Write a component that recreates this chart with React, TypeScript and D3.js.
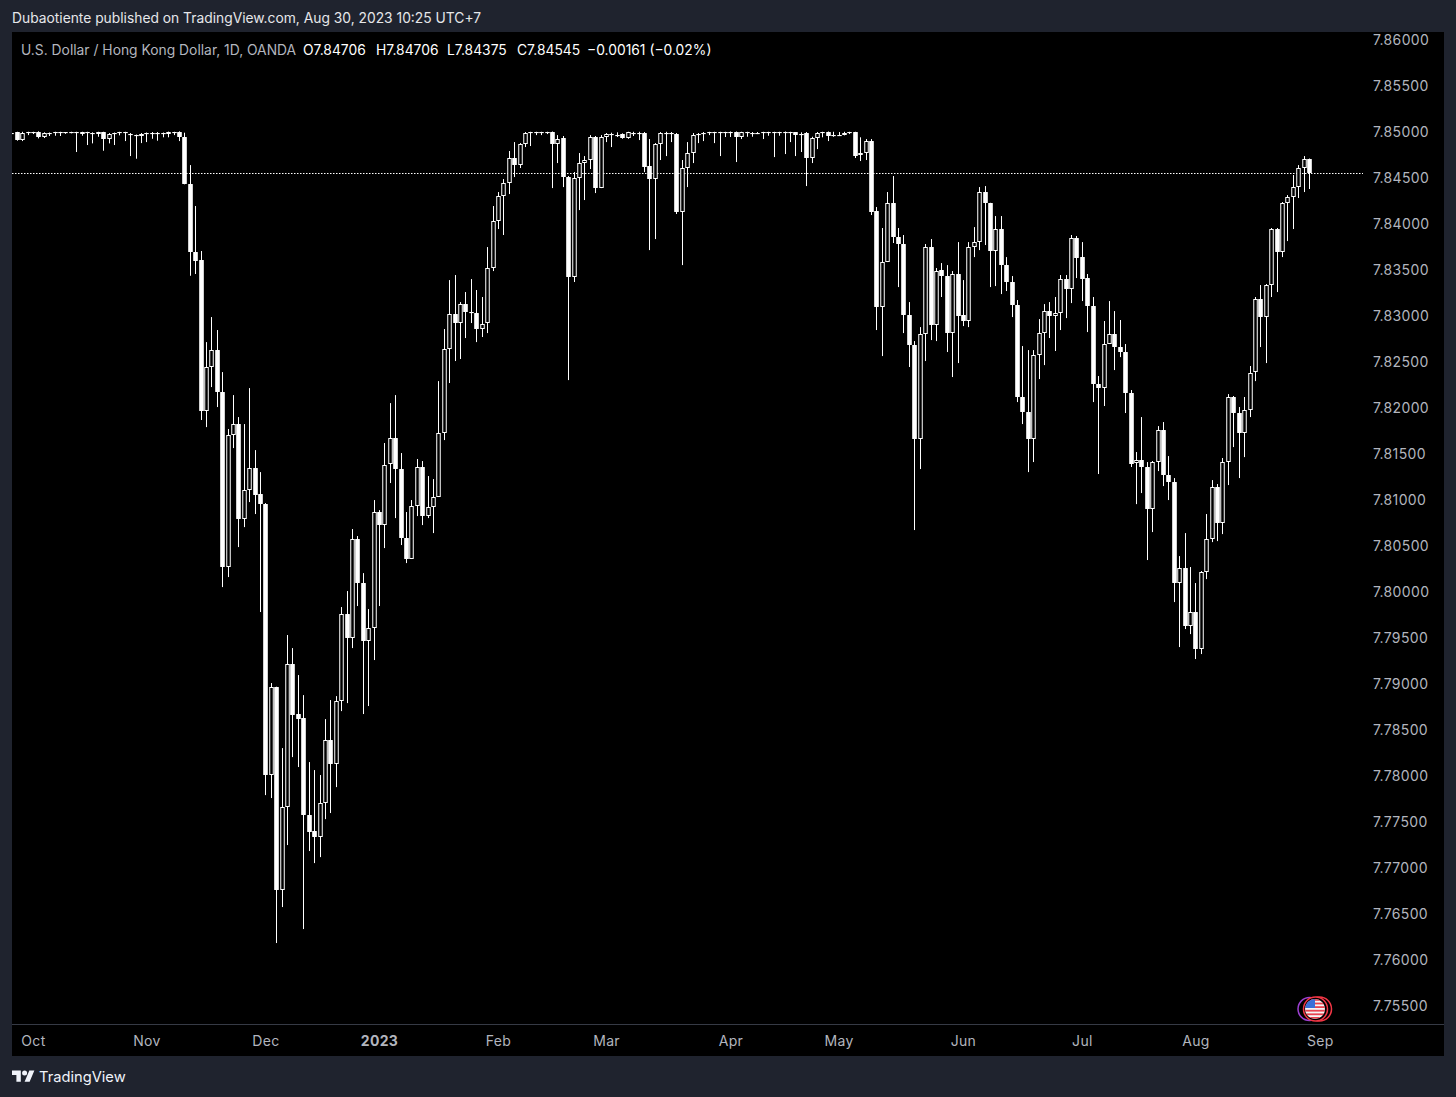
import React, { useRef, useEffect, FC } from "react";
import * as d3 from "d3";

// [open, high, low, close], one row per day
const lateSeptemberToNovemberBars = [
  [7.84989, 7.84994, 7.84972, 7.84983],
  [7.84994, 7.84997, 7.849, 7.84907],
  [7.84907, 7.84997, 7.84896, 7.84987],
  [7.84991, 7.84997, 7.84961, 7.84986],
  [7.84991, 7.84997, 7.84972, 7.84985],
  [7.84991, 7.85002, 7.84925, 7.84937],
  [7.84937, 7.84991, 7.84929, 7.8498],
  [7.84987, 7.84989, 7.84951, 7.84982],
  [7.84991, 7.84997, 7.84954, 7.84985],
  [7.84991, 7.84997, 7.84951, 7.84985],
  [7.84991, 7.84994, 7.84975, 7.84985],
  [7.84994, 7.84997, 7.8498, 7.84989],
  [7.84994, 7.84997, 7.84777, 7.8498],
  [7.84972, 7.84997, 7.84954, 7.84994],
  [7.84994, 7.84997, 7.84853, 7.84989],
  [7.84987, 7.84991, 7.84871, 7.84982],
  [7.84969, 7.84997, 7.84943, 7.84994],
  [7.84994, 7.84997, 7.84791, 7.84914],
  [7.84918, 7.84983, 7.84871, 7.84972],
  [7.84983, 7.84989, 7.84853, 7.84978],
  [7.84994, 7.84997, 7.84958, 7.84989],
  [7.84994, 7.84997, 7.84896, 7.84989],
  [7.84975, 7.84983, 7.84733, 7.84969],
  [7.84965, 7.84967, 7.84704, 7.84959],
  [7.84972, 7.84983, 7.84874, 7.84954],
  [7.8498, 7.84989, 7.84885, 7.84975],
  [7.84987, 7.84994, 7.84921, 7.84982],
  [7.84987, 7.84994, 7.849, 7.84982],
  [7.8498, 7.84989, 7.84937, 7.84975],
  [7.84969, 7.84999, 7.84937, 7.84997],
  [7.84994, 7.84997, 7.84961, 7.84989],
  [7.84999, 7.85002, 7.84896, 7.84937],
];

const selloffBars = [
  [7.84937, 7.84987, 7.84426, 7.84426],
  [7.84426, 7.84635, 7.83432, 7.83686],
  [7.83686, 7.8419, 7.83451, 7.83595],
  [7.83603, 7.83701, 7.81864, 7.81961],
  [7.81961, 7.82711, 7.81787, 7.8244],
  [7.8244, 7.82983, 7.82222, 7.82624],
  [7.82624, 7.82842, 7.82005, 7.82168],
  [7.82168, 7.82385, 7.80048, 7.80266],
  [7.80266, 7.81766, 7.80157, 7.81701],
  [7.81701, 7.82135, 7.81559, 7.8182],
  [7.8182, 7.81896, 7.80483, 7.80787],
  [7.80787, 7.8182, 7.807, 7.81103],
  [7.81103, 7.82211, 7.80972, 7.81342],
  [7.81342, 7.81537, 7.80842, 7.81048],
  [7.81059, 7.81298, 7.79777, 7.8095],
  [7.8095, 7.80961, 7.77787, 7.78005],
  [7.78005, 7.79005, 7.77755, 7.78961],
  [7.78961, 7.78965, 7.76179, 7.76755],
  [7.76755, 7.78298, 7.7657, 7.77657],
  [7.77657, 7.79527, 7.77244, 7.79211],
  [7.79211, 7.79385, 7.782, 7.78657],
  [7.78668, 7.79092, 7.78092, 7.78613],
  [7.78624, 7.78874, 7.76331, 7.7757],
  [7.7757, 7.78146, 7.77179, 7.77385],
  [7.77396, 7.78059, 7.77048, 7.77331],
  [7.77331, 7.78005, 7.77113, 7.777],
];

const recoveryBars = [
  [7.777, 7.78613, 7.77526, 7.78385],
  [7.78385, 7.7882, 7.77592, 7.78124],
  [7.78124, 7.78863, 7.77874, 7.78809],
  [7.78809, 7.79831, 7.787, 7.79755],
  [7.79755, 7.80005, 7.78787, 7.79494],
  [7.79494, 7.80679, 7.79385, 7.8057],
  [7.8057, 7.80603, 7.79842, 7.80092],
  [7.80092, 7.802, 7.78668, 7.79461],
  [7.79461, 7.79809, 7.78755, 7.79603],
  [7.79603, 7.80994, 7.79255, 7.80864],
  [7.80864, 7.80885, 7.79842, 7.80722],
  [7.80722, 7.81614, 7.80472, 7.81374],
  [7.81385, 7.82048, 7.81179, 7.81668],
  [7.81668, 7.82135, 7.80798, 7.81331],
  [7.81331, 7.81505, 7.80505, 7.80581],
  [7.80581, 7.80864, 7.80309, 7.80353],
  [7.80353, 7.80994, 7.80353, 7.80929],
  [7.80929, 7.8144, 7.8082, 7.81353],
  [7.81353, 7.81418, 7.80722, 7.8082],
  [7.8082, 7.81255, 7.80798, 7.80918],
  [7.80918, 7.81222, 7.80635, 7.81027],
  [7.81027, 7.82287, 7.81027, 7.81722],
  [7.81722, 7.82853, 7.81646, 7.82635],
  [7.82635, 7.83385, 7.82266, 7.83016],
  [7.83016, 7.8344, 7.82505, 7.82918],
  [7.82918, 7.83146, 7.82527, 7.83124],
  [7.83124, 7.83255, 7.82755, 7.83038],
  [7.83038, 7.83396, 7.82918, 7.83027],
  [7.83027, 7.83277, 7.82711, 7.82853],
  [7.82853, 7.83201, 7.82766, 7.82907],
  [7.82918, 7.83744, 7.82809, 7.83516],
  [7.83516, 7.8419, 7.83483, 7.84027],
  [7.84027, 7.84342, 7.8394, 7.84298],
  [7.84298, 7.84483, 7.83875, 7.8444],
  [7.8444, 7.84788, 7.8432, 7.84712],
  [7.84712, 7.84885, 7.84505, 7.84635],
  [7.84635, 7.84874, 7.84603, 7.84864],
  [7.84864, 7.84994, 7.84831, 7.84983],
];

const pegCeilingBars = [
  [7.84994, 7.84997, 7.84842, 7.84989],
  [7.84994, 7.84997, 7.84961, 7.84989],
  [7.84994, 7.84997, 7.84961, 7.84989],
  [7.84994, 7.84997, 7.84972, 7.84985],
  [7.84997, 7.85, 7.84385, 7.84864],
  [7.84864, 7.84961, 7.84657, 7.84918],
  [7.84929, 7.84951, 7.84396, 7.84505],
  [7.84505, 7.84516, 7.82298, 7.83418],
  [7.83418, 7.84559, 7.83364, 7.84494],
  [7.84494, 7.84766, 7.84146, 7.84657],
  [7.84657, 7.84733, 7.84255, 7.8469],
  [7.8469, 7.84961, 7.84592, 7.8494],
  [7.8494, 7.84951, 7.84331, 7.84385],
  [7.84385, 7.84961, 7.84385, 7.8494],
  [7.8494, 7.84983, 7.84885, 7.84972],
  [7.84969, 7.84987, 7.84831, 7.84965],
  [7.84958, 7.84991, 7.8494, 7.84952],
  [7.84972, 7.8498, 7.84921, 7.84929],
  [7.84929, 7.84997, 7.84921, 7.84994],
  [7.84987, 7.84997, 7.84951, 7.84982],
  [7.84987, 7.84997, 7.84907, 7.84982],
  [7.84983, 7.84994, 7.84559, 7.84614],
  [7.84625, 7.84918, 7.83711, 7.84483],
  [7.84483, 7.84874, 7.83831, 7.84864],
  [7.84864, 7.84994, 7.8469, 7.84983],
  [7.84987, 7.84997, 7.84733, 7.84982],
  [7.8498, 7.84994, 7.84885, 7.84975],
  [7.84972, 7.84983, 7.84103, 7.84124],
  [7.84124, 7.8469, 7.83548, 7.84603],
  [7.84603, 7.84885, 7.84396, 7.84766],
  [7.84766, 7.84983, 7.84657, 7.84961],
  [7.84972, 7.84983, 7.84874, 7.84958],
  [7.84983, 7.84994, 7.84896, 7.84976],
  [7.84991, 7.84997, 7.84961, 7.84985],
  [7.84994, 7.84997, 7.84874, 7.84989],
  [7.84994, 7.84997, 7.84733, 7.84989],
  [7.84991, 7.84997, 7.8494, 7.84985],
  [7.84997, 7.85, 7.8494, 7.84983],
  [7.84997, 7.85, 7.84668, 7.84943],
  [7.84943, 7.84997, 7.84918, 7.84991],
  [7.84991, 7.84997, 7.84943, 7.84985],
  [7.84987, 7.84994, 7.84943, 7.84982],
  [7.84987, 7.84994, 7.84972, 7.84982],
  [7.84991, 7.84997, 7.84918, 7.84985],
  [7.84994, 7.84997, 7.84954, 7.84989],
  [7.84994, 7.84997, 7.84722, 7.84989],
  [7.84994, 7.84997, 7.84954, 7.84989],
  [7.84997, 7.85, 7.84755, 7.8498],
  [7.84994, 7.84997, 7.84885, 7.8498],
  [7.84991, 7.84994, 7.84733, 7.84965],
  [7.84978, 7.84991, 7.84777, 7.84969],
  [7.8498, 7.84994, 7.84407, 7.84712],
  [7.84712, 7.84943, 7.84657, 7.84925],
  [7.84925, 7.84994, 7.84809, 7.8498],
  [7.84994, 7.84997, 7.84937, 7.84989],
  [7.84997, 7.85, 7.84896, 7.84951],
  [7.84967, 7.84997, 7.84943, 7.84963],
  [7.84965, 7.84994, 7.84951, 7.84959],
  [7.84965, 7.84997, 7.84958, 7.84987],
  [7.84994, 7.84997, 7.84972, 7.84989],
  [7.84991, 7.84997, 7.84712, 7.84737],
  [7.84741, 7.84937, 7.84679, 7.84763],
  [7.84763, 7.84918, 7.8469, 7.849],
];

const mayToJulyBars = [
  [7.849, 7.84918, 7.84092, 7.84124],
  [7.84135, 7.84179, 7.82842, 7.83092],
  [7.83092, 7.83951, 7.82559, 7.83581],
  [7.83581, 7.84342, 7.83581, 7.84222],
  [7.84222, 7.84516, 7.83788, 7.83853],
  [7.83853, 7.83951, 7.83309, 7.83777],
  [7.83777, 7.83875, 7.82809, 7.83005],
  [7.83005, 7.83146, 7.8244, 7.82679],
  [7.82679, 7.82722, 7.80668, 7.81657],
  [7.81657, 7.82874, 7.81331, 7.82798],
  [7.82798, 7.83777, 7.82505, 7.83744],
  [7.83744, 7.83831, 7.82733, 7.82896],
  [7.82896, 7.83516, 7.82722, 7.83483],
  [7.83494, 7.8357, 7.83201, 7.83429],
  [7.83429, 7.83548, 7.82603, 7.82809],
  [7.82809, 7.83483, 7.82331, 7.83451],
  [7.83451, 7.83798, 7.82483, 7.82994],
  [7.83005, 7.83385, 7.82885, 7.8294],
  [7.8294, 7.83798, 7.82874, 7.83744],
  [7.83744, 7.83961, 7.83635, 7.83798],
  [7.83798, 7.84396, 7.83711, 7.84342],
  [7.84342, 7.84407, 7.83766, 7.84222],
  [7.84222, 7.84225, 7.83309, 7.83701],
  [7.83701, 7.84081, 7.8332, 7.8394],
  [7.8394, 7.84081, 7.83233, 7.83548],
  [7.83548, 7.83635, 7.83266, 7.83364],
  [7.83364, 7.83429, 7.82983, 7.83114],
  [7.83114, 7.83168, 7.82059, 7.82114],
  [7.82114, 7.82668, 7.8182, 7.81951],
  [7.81951, 7.82624, 7.81298, 7.81657],
  [7.81657, 7.82624, 7.81407, 7.8257],
  [7.8257, 7.82961, 7.82309, 7.82809],
  [7.82809, 7.83124, 7.82461, 7.83048],
  [7.83048, 7.83146, 7.82755, 7.82994],
  [7.82994, 7.83201, 7.82614, 7.83027],
  [7.83027, 7.8344, 7.82842, 7.83396],
  [7.83396, 7.8344, 7.82972, 7.83288],
  [7.83288, 7.83875, 7.83135, 7.83842],
  [7.83842, 7.83864, 7.83407, 7.83625],
  [7.83636, 7.83798, 7.83157, 7.83396],
  [7.83407, 7.83451, 7.8282, 7.83103],
];

const julyToAugustBars = [
  [7.83103, 7.83201, 7.82059, 7.82255],
  [7.82255, 7.82342, 7.81277, 7.82211],
  [7.82211, 7.8294, 7.82016, 7.8269],
  [7.8269, 7.83157, 7.8269, 7.82798],
  [7.82798, 7.83048, 7.82407, 7.82657],
  [7.82657, 7.82951, 7.82548, 7.82603],
  [7.82603, 7.8269, 7.8194, 7.82157],
  [7.82157, 7.8219, 7.81353, 7.81385],
  [7.81396, 7.81516, 7.8095, 7.81429],
  [7.81429, 7.81896, 7.8107, 7.81353],
  [7.81353, 7.81407, 7.80342, 7.80896],
  [7.80896, 7.81418, 7.80646, 7.81407],
  [7.81407, 7.81798, 7.81309, 7.81755],
  [7.81755, 7.81842, 7.81146, 7.81271],
  [7.81271, 7.81472, 7.80994, 7.8119],
  [7.8119, 7.81233, 7.79885, 7.80092],
  [7.80092, 7.80385, 7.79396, 7.80255],
  [7.80255, 7.80635, 7.79592, 7.79624],
  [7.79624, 7.80266, 7.79537, 7.79777],
  [7.79777, 7.80092, 7.79266, 7.79374],
  [7.79374, 7.80222, 7.7932, 7.80211],
  [7.80211, 7.80842, 7.80135, 7.8057],
  [7.8057, 7.81211, 7.80537, 7.81135],
  [7.81135, 7.81168, 7.80548, 7.80744],
  [7.80744, 7.81451, 7.80624, 7.81407],
  [7.81407, 7.82146, 7.81157, 7.82114],
  [7.82114, 7.82125, 7.8157, 7.8194],
  [7.8194, 7.82005, 7.81233, 7.81722],
  [7.81722, 7.82114, 7.81461, 7.81972],
  [7.81972, 7.82451, 7.81896, 7.82374],
  [7.82385, 7.83201, 7.82287, 7.83179],
  [7.83179, 7.83331, 7.82657, 7.82983],
  [7.82983, 7.83342, 7.82483, 7.83331],
  [7.83331, 7.83951, 7.83201, 7.8394],
  [7.8394, 7.83951, 7.83255, 7.8369],
  [7.8369, 7.84233, 7.83635, 7.84222],
  [7.84222, 7.84309, 7.83809, 7.84287],
  [7.84287, 7.84527, 7.8394, 7.84396],
  [7.84396, 7.84635, 7.84277, 7.84603],
  [7.84603, 7.84733, 7.84342, 7.84701],
  [7.84706, 7.84706, 7.84375, 7.84545],
];

const priceTicks = [
  7.86, 7.855, 7.85, 7.845, 7.84, 7.835, 7.83, 7.825, 7.82, 7.815, 7.81, 7.805,
  7.8, 7.795, 7.79, 7.785, 7.78, 7.775, 7.77, 7.765, 7.76, 7.755,
];

const monthLabels = ["Oct", "Nov", "Dec", "2023", "Feb", "Mar", "Apr", "May", "Jun", "Jul", "Aug", "Sep"];
const monthBars = [4, 25, 47, 68, 90, 110, 133, 153, 176, 198, 219, 242];

const lastClose = 7.84545;

const bars = [
  ...lateSeptemberToNovemberBars,
  ...selloffBars,
  ...recoveryBars,
  ...pegCeilingBars,
  ...mayToJulyBars,
  ...julyToAugustBars,
];

const ChartView: FC = () => {
  const svgRef = useRef(null);

  useEffect(() => {
    const svg = d3.select(svgRef.current);
    svg.selectAll("*").remove();

    const width = 1456;
    const height = 1097;
    const paneLeft = 12;
    const paneRight = 1363;
    const paneTop = 32;
    const axisLine = 1024;
    const frameRight = 1444;
    const frameBottom = 1056;
    const font = "Inter, 'Noto Sans', sans-serif";

    const xScale = d3.scaleLinear().domain([0, bars.length - 1]).range([11.3, 1309]);
    const yScale = d3.scaleLinear().domain([7.86, 7.755]).range([39.5, 1005.5]);

    // page frame and black chart area
    svg.append("rect").attr("width", width).attr("height", height).attr("fill", "#1f232e");
    svg
      .append("rect")
      .attr("x", paneLeft)
      .attr("y", paneTop)
      .attr("width", frameRight - paneLeft)
      .attr("height", frameBottom - paneTop)
      .attr("fill", "#000000");

    svg
      .append("defs")
      .append("clipPath")
      .attr("id", "pane-clip")
      .append("rect")
      .attr("x", paneLeft)
      .attr("y", paneTop)
      .attr("width", paneRight - paneLeft)
      .attr("height", axisLine - paneTop);

    const pane = svg.append("g").attr("clip-path", "url(#pane-clip)");

    // last price line
    pane
      .append("line")
      .attr("x1", paneLeft)
      .attr("x2", paneRight)
      .attr("y1", Math.round(yScale(lastClose)) + 0.5)
      .attr("y2", Math.round(yScale(lastClose)) + 0.5)
      .attr("stroke", "#ffffff")
      .attr("stroke-width", 1)
      .attr("stroke-dasharray", "1.5 1.5");

    // wicks
    pane
      .selectAll(".wick")
      .data(bars)
      .enter()
      .append("rect")
      .attr("class", "wick")
      .attr("x", (_d: any, i: number) => Math.round(xScale(i)))
      .attr("width", 1)
      .attr("y", (d: any) => yScale(d[1]))
      .attr("height", (d: any) => Math.max(1, yScale(d[2]) - yScale(d[1])))
      .attr("fill", "#ffffff");

    // bodies: white when falling, hollow when rising
    pane
      .selectAll(".body")
      .data(bars)
      .enter()
      .append("rect")
      .attr("class", "body")
      .attr("x", (_d: any, i: number) => Math.round(xScale(i)) + 0.5 - 1.75)
      .attr("width", 3.5)
      .attr("y", (d: any) => Math.round(yScale(Math.max(d[0], d[3]))) + 0.5)
      .attr("height", (d: any) =>
        Math.max(0.1, Math.round(yScale(Math.min(d[0], d[3]))) - Math.round(yScale(Math.max(d[0], d[3]))) - 1)
      )
      .attr("fill", (d: any) => (d[3] > d[0] ? "#000000" : "#ffffff"))
      .attr("stroke", "#ffffff")
      .attr("stroke-width", 1);

    // price axis
    const yAxis = d3
      .axisRight(yScale)
      .tickValues(priceTicks)
      .tickFormat(d3.format(".5f") as any)
      .tickSize(0)
      .tickPadding(0);
    const yAxisG = svg.append("g").attr("transform", "translate(1373, 1)").call(yAxis);
    yAxisG.select(".domain").remove();
    yAxisG
      .selectAll("text")
      .attr("font-family", font)
      .attr("font-size", 14)
      .attr("letter-spacing", 0.35)
      .attr("fill", "#b2b5be");

    // time axis
    const xAxis = d3
      .axisBottom(xScale)
      .tickValues(monthBars)
      .tickFormat((_d: any, i: number) => monthLabels[i])
      .tickSize(0)
      .tickPadding(0);
    const xAxisG = svg.append("g").attr("transform", "translate(0, 1036)").call(xAxis);
    xAxisG.select(".domain").remove();
    xAxisG
      .selectAll("text")
      .attr("font-family", font)
      .attr("font-size", 14)
      .attr("letter-spacing", 0.35)
      .attr("font-weight", (_d: any, i: number) => (monthLabels[i] === "2023" ? 700 : 400))
      .attr("fill", "#b2b5be");

    svg
      .append("line")
      .attr("x1", paneLeft)
      .attr("x2", frameRight)
      .attr("y1", axisLine + 0.5)
      .attr("y2", axisLine + 0.5)
      .attr("stroke", "#363a45");

    // header and legend
    const addText = (x: number, y: number, text: string, size: number, fill: string) =>
      svg
        .append("text")
        .attr("x", x)
        .attr("y", y)
        .attr("font-family", font)
        .attr("font-size", size)
        .attr("fill", fill)
        .text(text);

    addText(12, 23, "Dubaotiente published on TradingView.com, Aug 30, 2023 10:25 UTC+7", 13.82, "#e6e7ea");
    addText(21, 54.5, "U.S. Dollar / Hong Kong Dollar, 1D, OANDA", 13.85, "#b2b5be");
    addText(303, 54.5, "O7.84706", 13.85, "#ffffff");
    addText(376, 54.5, "H7.84706", 13.85, "#ffffff");
    addText(447, 54.5, "L7.84375", 13.85, "#ffffff");
    addText(517, 54.5, "C7.84545", 13.85, "#ffffff");
    addText(587, 54.5, "\u22120.00161 (\u22120.02%)", 13.85, "#ffffff");

    // watermark
    svg
      .append("path")
      .attr("transform", "translate(12, 1068) scale(0.63)")
      .attr("d", "M14 22H7V11H0V4h14v18zM28 22h-8l7.5-18h8L28 22z")
      .attr("fill", "#f0f3fa");
    svg
      .append("circle")
      .attr("cx", 12 + 20 * 0.63)
      .attr("cy", 1068 + 8 * 0.63)
      .attr("r", 4 * 0.63)
      .attr("fill", "#f0f3fa");
    addText(39, 1082, "TradingView", 14.7, "#f0f3fa");

    // country badge
    const flag = svg.append("g");
    flag
      .append("circle")
      .attr("cx", 1309.5)
      .attr("cy", 1009)
      .attr("r", 11.5)
      .attr("fill", "#000000")
      .attr("stroke", "#9c3fd1")
      .attr("stroke-width", 1.5);
    flag
      .append("circle")
      .attr("cx", 1319.5)
      .attr("cy", 1009)
      .attr("r", 12)
      .attr("fill", "#000000")
      .attr("stroke", "#f23645")
      .attr("stroke-width", 1.5);
    flag
      .append("circle")
      .attr("cx", 1315.5)
      .attr("cy", 1009)
      .attr("r", 12)
      .attr("fill", "#000000")
      .attr("stroke", "#f23645")
      .attr("stroke-width", 1.5);
    flag
      .append("clipPath")
      .attr("id", "flag-clip")
      .append("circle")
      .attr("cx", 1315)
      .attr("cy", 1009)
      .attr("r", 10);
    const flagInner = flag.append("g").attr("clip-path", "url(#flag-clip)");
    flagInner.append("rect").attr("x", 1304).attr("y", 998).attr("width", 22).attr("height", 22).attr("fill", "#f5f5f5");
    d3.range(0, 6).forEach((k: number) => {
      flagInner
        .append("rect")
        .attr("x", 1304)
        .attr("y", 999 + k * 3.6)
        .attr("width", 22)
        .attr("height", 1.8)
        .attr("fill", "#e8434f");
    });
    flagInner.append("rect").attr("x", 1304).attr("y", 998).attr("width", 11).attr("height", 10).attr("fill", "#3a6fd8");
  }, []);

  return <svg ref={svgRef} width={1456} height={1097} style={{ position: "absolute", left: 0, top: 0 }} />;
};

export default function App() {
  return <ChartView />;
}
